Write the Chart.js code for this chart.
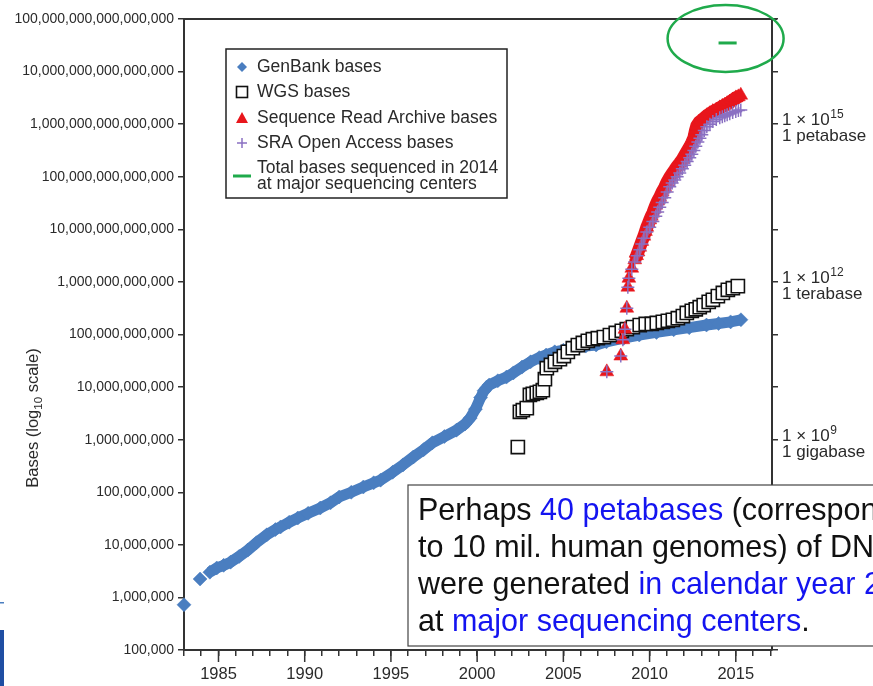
<!DOCTYPE html>
<html><head><meta charset="utf-8">
<script src="https://cdn.jsdelivr.net/npm/chart.js@4.4.0/dist/chart.umd.min.js"></script>
<style>html,body{margin:0;padding:0;background:#fff;overflow:hidden}#wrap{position:relative;width:873px;height:686px}</style>
</head><body><div id="wrap"><canvas id="c" width="873" height="686"></canvas></div>
<script>
const FONT = "'Liberation Sans', Arial, Helvetica, sans-serif";

// ---- axis / tick data ----
const yTickValues = [1e5,1e6,1e7,1e8,1e9,1e10,1e11,1e12,1e13,1e14,1e15,1e16,1e17];
const xTickYears = [1983,1984,1985,1986,1987,1988,1989,1990,1991,1992,1993,1994,1995,1996,1997,1998,1999,2000,2001,2002,2003,2004,2005,2006,2007,2008,2009,2010,2011,2012,2013,2014,2015,2016,2017];
const majorYears = [1985,1990,1995,2000,2005,2010,2015];
const rightLabelValues = [1e9, 1e12, 1e15];
const rightLabelExponents = ['9', '12', '15'];
const rightLabelNames = ['1 gigabase', '1 terabase', '1 petabase'];

// ---- series (log10 of bases) ----
const genbankYears = [1983.0,1983.93,1984.5,1984.9,1985.3,1985.7,1986.2,1986.7,1987.2,1987.8,1988.3,1988.6,1989.1,1989.6,1990.2,1990.9,1991.5,1992.0,1992.7,1993.4,1994.0,1994.4,1995.1,1995.7,1996.3,1996.9,1997.4,1998.1,1998.8,1999.3,1999.6,1999.9,2000.2,2000.4,2000.7,2001.2,2001.7,2002.1,2002.6,2003.1,2003.6,2004.0,2004.5,2005.0,2005.6,2006.3,2006.9,2007.5,2008.5,2009.4,2010.4,2011.4,2012.3,2013.3,2014.0,2014.7,2015.3];
const genbankLog10 = [5.86,6.35,6.48,6.56,6.61,6.67,6.78,6.90,7.04,7.19,7.29,7.34,7.43,7.51,7.60,7.70,7.80,7.91,8.00,8.10,8.18,8.23,8.38,8.52,8.67,8.81,8.94,9.06,9.18,9.30,9.41,9.58,9.80,9.93,10.04,10.12,10.19,10.27,10.38,10.48,10.56,10.61,10.67,10.70,10.74,10.78,10.80,10.86,10.93,10.99,11.04,11.09,11.13,11.18,11.21,11.24,11.28];

const wgsYears = [2002.36,2002.48,2002.65,2002.88,2003.06,2003.23,2003.46,2003.64,2003.81,2003.93,2004.04,2004.28,2004.51,2004.80,2005.03,2005.26,2005.55,2005.84,2006.13,2006.42,2006.71,2007.00,2007.35,2007.70,2008.04,2008.39,2008.68,2009.03,2009.43,2009.78,2010.13,2010.42,2010.77,2011.06,2011.35,2011.64,2011.93,2012.16,2012.45,2012.68,2012.91,2013.14,2013.43,2013.67,2013.96,2014.25,2014.54,2014.83,2015.12];
const wgsLog10 = [8.86,9.53,9.56,9.60,9.85,9.87,9.89,9.91,9.94,10.15,10.36,10.42,10.48,10.53,10.59,10.67,10.74,10.80,10.84,10.88,10.91,10.93,10.95,10.99,11.03,11.07,11.10,11.14,11.18,11.20,11.20,11.22,11.24,11.26,11.28,11.31,11.35,11.41,11.45,11.48,11.52,11.56,11.62,11.66,11.73,11.79,11.85,11.88,11.92];

const sraYears = [2007.52,2008.33,2008.45,2008.57,2008.68,2008.74,2008.80,2008.97,2009.14,2009.25,2009.33,2009.43,2009.55,2009.67,2009.76,2009.84,2009.93,2010.01,2010.10,2010.19,2010.28,2010.36,2010.47,2010.59,2010.73,2010.88,2011.02,2011.17,2011.31,2011.46,2011.60,2011.75,2011.90,2012.04,2012.18,2012.33,2012.45,2012.57,2012.66,2012.74,2012.88,2013.03,2013.17,2013.32,2013.50,2013.67,2013.87,2014.07,2014.22,2014.36,2014.50,2014.65,2014.82,2015.00,2015.15,2015.29];
const sraLog10 = [10.29,10.59,10.90,11.10,11.50,11.90,12.07,12.26,12.42,12.50,12.57,12.66,12.77,12.87,12.96,13.04,13.11,13.18,13.25,13.31,13.39,13.46,13.54,13.61,13.71,13.80,13.90,13.99,14.06,14.13,14.20,14.26,14.33,14.41,14.49,14.57,14.65,14.74,14.88,14.97,15.04,15.08,15.12,15.16,15.20,15.24,15.27,15.31,15.34,15.36,15.39,15.42,15.46,15.50,15.52,15.55];

const sraOpenYears = [2007.52,2008.33,2008.45,2008.57,2008.68,2008.74,2008.80,2008.97,2009.14,2009.28,2009.43,2009.55,2009.67,2009.84,2010.01,2010.19,2010.36,2010.47,2010.59,2010.73,2010.88,2011.02,2011.17,2011.31,2011.46,2011.60,2011.75,2011.90,2012.04,2012.18,2012.33,2012.45,2012.57,2012.68,2012.80,2012.92,2013.03,2013.17,2013.32,2013.50,2013.67,2013.87,2014.07,2014.22,2014.36,2014.50,2014.65,2014.82,2015.00,2015.15,2015.29];
const sraOpenLog10 = [10.29,10.59,10.90,11.10,11.50,11.90,12.07,12.24,12.38,12.50,12.61,12.72,12.83,12.95,13.04,13.15,13.25,13.33,13.42,13.51,13.60,13.71,13.81,13.88,13.94,14.00,14.07,14.15,14.22,14.29,14.36,14.43,14.50,14.58,14.66,14.73,14.80,14.88,14.95,15.00,15.05,15.09,15.12,15.14,15.16,15.18,15.20,15.22,15.24,15.26,15.27];

const total2014Years = [2014.0, 2015.05];
const total2014Bases = [3.5e16, 3.5e16];

// ---- legend / annotation text ----
const legendLabels = ['GenBank bases', 'WGS bases', 'Sequence Read Archive bases', 'SRA Open Access bases', ['Total bases sequenced in 2014', 'at major sequencing centers']];
const noteLines = [
  [['Perhaps ', 'k'], ['40 petabases', 'b'], [' (corresponding', 'k']],
  [['to 10 mil. human genomes) of DNA', 'k']],
  [['were generated ', 'k'], ['in calendar year 2014', 'b']],
  [['at ', 'k'], ['major sequencing centers', 'b'], ['.', 'k']]
];

const C_BLUE = '#4a7ec0', C_RED = '#e8161c', C_PURPLE = '#8a70c2', C_GREEN = '#1faa4b', AXIS = '#333333', TXT = '#2a2a2a';

function pts(xs, ls) { return xs.map((x, i) => ({ x: x, y: Math.pow(10, ls[i]) })); }
function ptsRaw(xs, vs) { return xs.map((x, i) => ({ x: x, y: vs[i] })); }

function drawMarker(ctx, kind, x, y) {
  ctx.save();
  if (kind === 0) { ctx.fillStyle = C_BLUE; ctx.beginPath(); ctx.moveTo(x - 5, y); ctx.lineTo(x, y - 5); ctx.lineTo(x + 5, y); ctx.lineTo(x, y + 5); ctx.closePath(); ctx.fill(); }
  else if (kind === 1) { ctx.strokeStyle = '#111'; ctx.lineWidth = 1.6; ctx.fillStyle = '#fff'; ctx.fillRect(x - 5.5, y - 5.5, 11, 11); ctx.strokeRect(x - 5.5, y - 5.5, 11, 11); }
  else if (kind === 2) { ctx.fillStyle = C_RED; ctx.beginPath(); ctx.moveTo(x, y - 6); ctx.lineTo(x + 6, y + 5); ctx.lineTo(x - 6, y + 5); ctx.closePath(); ctx.fill(); }
  else if (kind === 3) { ctx.strokeStyle = C_PURPLE; ctx.lineWidth = 1.5; ctx.beginPath(); ctx.moveTo(x - 5, y); ctx.lineTo(x + 5, y); ctx.moveTo(x, y - 5); ctx.lineTo(x, y + 5); ctx.stroke(); }
  else { ctx.strokeStyle = C_GREEN; ctx.lineWidth = 3; ctx.beginPath(); ctx.moveTo(x - 9, y); ctx.lineTo(x + 9, y); ctx.stroke(); }
  ctx.restore();
}

const decor = {
  id: 'decor',
  beforeDraw(chart) {
    const { ctx } = chart;
    ctx.save(); ctx.fillStyle = '#fff'; ctx.fillRect(0, 0, chart.width, chart.height); ctx.restore();
  },
  afterDraw(chart) {
    const { ctx, chartArea: ca, scales } = chart;
    const xs = scales.x, ys = scales.y;
    ctx.save();
    // top border
    ctx.strokeStyle = AXIS; ctx.lineWidth = 2;
    ctx.beginPath(); ctx.moveTo(ca.left - 1, ca.top); ctx.lineTo(ca.right + 5, ca.top); ctx.stroke();
    // major x ticks (longer)
    ctx.lineWidth = 1.5;
    majorYears.forEach(yr => { const px = xs.getPixelForValue(yr); ctx.beginPath(); ctx.moveTo(px, ca.bottom); ctx.lineTo(px, ca.bottom + 12); ctx.stroke(); });
    // right axis labels
    ctx.fillStyle = TXT; ctx.textBaseline = 'alphabetic'; ctx.textAlign = 'left';
    rightLabelValues.forEach((v, i) => {
      const py = ys.getPixelForValue(v);
      const lx = ca.right + 10;
      ctx.font = '17px ' + FONT;
      const base = '1 \u00d7 10';
      ctx.fillText(base, lx, py + 1);
      const w = ctx.measureText(base).width;
      ctx.font = '12px ' + FONT;
      ctx.fillText(rightLabelExponents[i], lx + w + 0.5, py - 6);
      ctx.font = '17px ' + FONT;
      ctx.fillText(rightLabelNames[i], lx, py + 17);
    });
    // y-axis title with subscript
    ctx.save();
    ctx.translate(38, 418); ctx.rotate(-Math.PI / 2);
    ctx.fillStyle = TXT;
    const t1 = 'Bases (log', t2 = '10', t3 = ' scale)';
    ctx.font = '16.5px ' + FONT; const w1 = ctx.measureText(t1).width, w3 = ctx.measureText(t3).width;
    ctx.font = '11.5px ' + FONT; const w2 = ctx.measureText(t2).width;
    let sx = -(w1 + w2 + w3) / 2;
    ctx.font = '16.5px ' + FONT; ctx.fillText(t1, sx, 0); sx += w1;
    ctx.font = '11.5px ' + FONT; ctx.fillText(t2, sx, 4); sx += w2;
    ctx.font = '16.5px ' + FONT; ctx.fillText(t3, sx, 0);
    ctx.restore();
    // green ellipse around the 2014 total
    const gx = (xs.getPixelForValue(total2014Years[0]) + xs.getPixelForValue(total2014Years[1])) / 2;
    const gy = ys.getPixelForValue(total2014Bases[0]);
    ctx.strokeStyle = C_GREEN; ctx.lineWidth = 2.5;
    ctx.beginPath(); ctx.ellipse(gx - 2, gy - 4.5, 58, 33.5, 0, 0, Math.PI * 2); ctx.stroke();
    // legend box
    ctx.fillStyle = '#fff'; ctx.fillRect(226, 49, 281, 149);
    ctx.strokeStyle = '#222'; ctx.lineWidth = 1.5; ctx.strokeRect(226, 49, 281, 149);
    const rowY = [67, 92, 118, 143];
    ctx.font = '17.5px ' + FONT; ctx.fillStyle = TXT; ctx.textBaseline = 'middle';
    legendLabels.forEach((lab, i) => {
      if (Array.isArray(lab)) {
        drawMarker(ctx, i, 242, 176);
        ctx.fillText(lab[0], 257, 168);
        ctx.fillText(lab[1], 257, 184);
      } else {
        drawMarker(ctx, i, 242, rowY[i]);
        ctx.fillText(lab, 257, rowY[i]);
      }
    });
    // note box
    ctx.fillStyle = '#fff'; ctx.fillRect(408, 485, 480, 161);
    ctx.strokeStyle = '#444'; ctx.lineWidth = 1.2; ctx.strokeRect(408, 485, 480, 161);
    ctx.font = '30.5px ' + FONT; ctx.textBaseline = 'alphabetic';
    const baselines = [520, 557, 594, 631];
    noteLines.forEach((parts, li) => {
      let tx = 418;
      parts.forEach(p => { ctx.fillStyle = p[1] === 'b' ? '#1414f0' : '#111'; ctx.fillText(p[0], tx, baselines[li]); tx += ctx.measureText(p[0]).width; });
    });
    // slide edge fragment at bottom-left
    ctx.fillStyle = '#4a7ec0'; ctx.fillRect(0, 602, 4, 1.5);
    ctx.fillStyle = '#1f4ea3'; ctx.fillRect(0, 630, 4, 56);
    ctx.restore();
  }
};

const chart = new Chart(document.getElementById('c'), {
  type: 'scatter',
  data: {
    datasets: [
      { label: legendLabels[4].join(' '), data: ptsRaw(total2014Years, total2014Bases), showLine: true, borderColor: C_GREEN, borderWidth: 3, pointRadius: 0, order: 0, clip: false },
      { label: legendLabels[3], data: pts(sraOpenYears, sraOpenLog10), pointStyle: 'cross', pointRadius: 6.5, pointBorderWidth: 1.5, pointBorderColor: C_PURPLE, borderColor: 'rgba(150,125,205,0.55)', borderWidth: 6, showLine: true,
        segment: { borderColor: c => c.p0DataIndex < 8 ? 'rgba(0,0,0,0)' : undefined }, order: 1, clip: false },
      { label: legendLabels[2], data: pts(sraYears, sraLog10), pointStyle: 'triangle', pointRadius: 8, pointBorderWidth: 0.5, pointBorderColor: C_RED, pointBackgroundColor: C_RED, borderColor: C_RED, borderWidth: 13, showLine: true,
        segment: { borderColor: c => c.p0DataIndex < 8 ? 'rgba(0,0,0,0)' : undefined }, order: 2, clip: false },
      { label: legendLabels[1], data: pts(wgsYears, wgsLog10), pointStyle: 'rect', pointRadius: 9.3, pointBorderWidth: 1.6, pointBorderColor: '#111', pointBackgroundColor: '#fff', showLine: false, order: 3, clip: false },
      { label: legendLabels[0], data: pts(genbankYears, genbankLog10), pointStyle: 'rectRot', pointRadius: 7, pointBorderWidth: 0.5, pointBorderColor: C_BLUE, pointBackgroundColor: C_BLUE, borderColor: C_BLUE, borderWidth: 11, showLine: true,
        segment: { borderColor: c => c.p0DataIndex < 2 ? 'rgba(0,0,0,0)' : undefined }, order: 4, clip: false }
    ]
  },
  options: {
    responsive: false, animation: false, events: [],
    layout: { padding: { top: 19, left: 0, right: 0, bottom: 0 } },
    plugins: { legend: { display: false }, tooltip: { enabled: false } },
    elements: { line: { tension: 0 } },
    scales: {
      x: {
        type: 'linear', min: 1983, max: 2017.1,
        afterBuildTicks: a => { a.ticks = xTickYears.map(v => ({ value: v })); },
        afterFit: s => { s.height = 36; },
        ticks: { autoSkip: false, maxRotation: 0, padding: 9, color: TXT, font: { family: FONT, size: 16.5 },
          callback: v => (majorYears.indexOf(v) >= 0 ? String(v) : '') },
        grid: { drawOnChartArea: false, drawTicks: true, tickLength: 6, color: AXIS, lineWidth: 1.5 },
        border: { display: true, color: AXIS, width: 2 }
      },
      y: {
        type: 'logarithmic', position: 'left', min: 1e5, max: 1e17,
        afterBuildTicks: a => { a.ticks = yTickValues.map(v => ({ value: v })); },
        afterFit: s => { s.width = 184; },
        ticks: { autoSkip: false, padding: 4, color: TXT, font: { family: FONT, size: 14 },
          callback: v => Number(v).toLocaleString('en-US') },
        grid: { drawOnChartArea: false, drawTicks: true, tickLength: 6, color: AXIS, lineWidth: 1.5 },
        border: { display: true, color: AXIS, width: 2 }
      },
      y2: {
        type: 'logarithmic', position: 'right', min: 1e5, max: 1e17,
        afterBuildTicks: a => { a.ticks = yTickValues.map(v => ({ value: v })); },
        afterFit: s => { s.width = 101; },
        ticks: { autoSkip: false, display: true, callback: () => '' },
        grid: { drawOnChartArea: false, drawTicks: true, tickLength: 6, color: AXIS, lineWidth: 1.5 },
        border: { display: true, color: AXIS, width: 2 }
      }
    }
  },
  plugins: [decor]
});
</script>
</body></html>
